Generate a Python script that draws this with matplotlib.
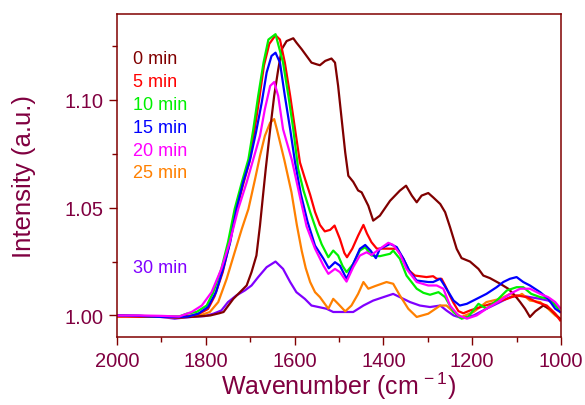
import matplotlib
matplotlib.use("Agg")
import matplotlib.pyplot as plt
from matplotlib.ticker import MultipleLocator

plt.rcParams['font.family'] = ['Liberation Sans', 'DejaVu Sans']
plt.rcParams['mathtext.fontset'] = 'custom'
plt.rcParams['mathtext.rm'] = 'Liberation Sans'
plt.rcParams['mathtext.it'] = 'Liberation Sans'

labels = ["0 min", "5 min", "10 min", "15 min", "20 min", "25 min", "30 min"]
colors = ["#800000", "#FF0000", "#00F000", "#0000FF", "#FF00FF", "#FF8000", "#8000FF"]

wn_0 = [2000, 1950, 1900, 1860, 1820, 1790, 1770, 1760, 1738, 1723, 1708, 1697, 1686, 1678, 1671,
        1665, 1655, 1646, 1637, 1629, 1618, 1603, 1596, 1584, 1573, 1562, 1550, 1543, 1531, 1517,
        1509, 1502, 1494, 1486, 1479, 1468, 1457, 1449, 1434, 1423, 1408, 1385, 1363, 1349, 1336,
        1325, 1314, 1299, 1288, 1272, 1261, 1250, 1235, 1224, 1205, 1186, 1175, 1160, 1137, 1119,
        1104, 1092, 1081, 1070, 1058, 1040, 1025, 1010, 1000]
int_0 = [1.000, 0.9995, 0.9995, 0.999, 0.9995, 1.000, 1.001, 1.0016, 1.0077, 1.0108, 1.0139, 1.0201, 1.0278, 1.0417, 1.056,
         1.068, 1.0864, 1.1019, 1.114, 1.1235, 1.1273, 1.1286, 1.1266, 1.1235, 1.1204, 1.1173, 1.1165, 1.1161, 1.1181, 1.1192,
         1.1173, 1.1065, 1.091, 1.0756, 1.0648, 1.062, 1.058, 1.0571, 1.0509, 1.044, 1.0463, 1.0532, 1.0579, 1.0602, 1.0556,
         1.0525, 1.0556, 1.0568, 1.0548, 1.0517, 1.0479, 1.041, 1.0309, 1.0266, 1.025, 1.0216, 1.0185, 1.0173, 1.0147, 1.0124,
         1.0093, 1.0062, 1.0031, 0.9993, 1.0019, 1.0046, 1.003, 1.000, 0.998]

wn_5 = [2000, 1950, 1900, 1860, 1830, 1815, 1795, 1780, 1762, 1747, 1732, 1717, 1702, 1691, 1680,
        1669, 1657, 1643, 1633, 1622, 1610, 1599, 1588, 1576, 1565, 1554, 1543, 1532, 1520, 1510,
        1498, 1488, 1482, 1470, 1457, 1445, 1437, 1427, 1415, 1393, 1370, 1355, 1343, 1329, 1303,
        1288, 1280, 1269, 1261, 1250, 1242, 1231, 1220, 1205, 1175, 1145, 1122, 1100, 1077, 1055,
        1032, 1013, 1002]
int_5 = [0.9995, 0.9995, 0.9995, 0.9993, 1.000, 1.0008, 1.003, 1.009, 1.020, 1.033, 1.048, 1.060, 1.071, 1.085, 1.100,
         1.116, 1.126, 1.130, 1.128, 1.1173, 1.1019, 1.0864, 1.071, 1.063, 1.056, 1.048, 1.042, 1.039, 1.0397, 1.0417,
         1.0355, 1.029, 1.027, 1.031, 1.037, 1.042, 1.038, 1.034, 1.031, 1.031, 1.0309, 1.0263, 1.021, 1.0185, 1.0178,
         1.0182, 1.017, 1.017, 1.0139, 1.009, 1.0058, 1.002, 1.001, 1.0023, 1.0043, 1.0062, 1.0077, 1.0093, 1.0085, 1.0062,
         1.0046, 1.0008, 0.9977]

wn_10 = [2000, 1950, 1900, 1860, 1843, 1821, 1798, 1783, 1765, 1750, 1735, 1719, 1704, 1693, 1682,
         1670, 1659, 1643, 1626, 1614, 1603, 1592, 1580, 1565, 1550, 1539, 1524, 1513, 1502, 1492,
         1483, 1468, 1453, 1441, 1427, 1408, 1385, 1378, 1363, 1348, 1325, 1310, 1295, 1276, 1261,
         1242, 1224, 1209, 1186, 1168, 1145, 1122, 1100, 1085, 1067, 1047, 1025, 1010, 1002]
int_10 = [1.000, 0.9998, 0.9995, 0.9995, 1.0008, 1.0016, 1.0046, 1.0108, 1.0216, 1.034, 1.0494, 1.0617, 1.0725, 1.0864, 1.1019,
          1.1173, 1.128, 1.1305, 1.1173, 1.1019, 1.0864, 1.068, 1.058, 1.048, 1.039, 1.033, 1.027, 1.0301, 1.0278, 1.023,
          1.0201, 1.0239, 1.0301, 1.0317, 1.0278, 1.0275, 1.0286, 1.0301, 1.0263, 1.0185, 1.0124, 1.0105, 1.0096, 1.0108, 1.0085,
          1.0016, 0.9985, 0.9993, 1.0054, 1.0031, 1.0069, 1.0116, 1.0131, 1.0131, 1.010, 1.0085, 1.0077, 1.0039, 1.0016]

wn_15 = [2000, 1950, 1900, 1860, 1840, 1817, 1795, 1777, 1761, 1745, 1731, 1716, 1700, 1687, 1674,
         1663, 1652, 1643, 1633, 1622, 1610, 1599, 1586, 1571, 1554, 1535, 1523, 1509, 1498, 1483,
         1468, 1453, 1441, 1429, 1417, 1408, 1385, 1370, 1355, 1340, 1325, 1299, 1288, 1272, 1258,
         1242, 1228, 1212, 1190, 1168, 1145, 1130, 1115, 1100, 1085, 1070, 1047, 1029, 1013, 1002]
int_15 = [1.000, 0.9998, 0.9993, 0.9993, 0.9995, 1.0008, 1.0039, 1.0108, 1.0216, 1.034, 1.0494, 1.0617, 1.0725, 1.0849, 1.0988,
          1.1127, 1.1204, 1.1219, 1.1173, 1.1019, 1.0864, 1.071, 1.0563, 1.0436, 1.0324, 1.0263, 1.0219, 1.0247, 1.0231, 1.017,
          1.0239, 1.0309, 1.0327, 1.0301, 1.0266, 1.0309, 1.0332, 1.0317, 1.0263, 1.0201, 1.0162, 1.0155, 1.0155, 1.017, 1.0124,
          1.0069, 1.0046, 1.0054, 1.0077, 1.010, 1.0131, 1.0155, 1.017, 1.0178, 1.0155, 1.0139, 1.0108, 1.0077, 1.0031, 1.0016]

wn_20 = [2000, 1950, 1900, 1860, 1832, 1809, 1787, 1765, 1746, 1727, 1708, 1693, 1678, 1667, 1655,
         1646, 1637, 1626, 1606, 1588, 1573, 1554, 1535, 1524, 1509, 1498, 1483, 1468, 1453, 1438,
         1427, 1408, 1389, 1378, 1363, 1348, 1325, 1299, 1280, 1265, 1250, 1231, 1212, 1190, 1168,
         1137, 1115, 1092, 1070, 1047, 1029, 1013, 1002]
int_20 = [1.000, 1.000, 0.9998, 0.9995, 1.0016, 1.0046, 1.0108, 1.0216, 1.034, 1.0494, 1.0617, 1.0725, 1.0833, 1.0957, 1.1065,
          1.1083, 1.1019, 1.0864, 1.072, 1.055, 1.0413, 1.031, 1.0231, 1.0193, 1.0216, 1.0201, 1.0157, 1.0224, 1.0278, 1.0293,
          1.0281, 1.0309, 1.0337, 1.0327, 1.0286, 1.0216, 1.0155, 1.0139, 1.0139, 1.0124, 1.0046, 1.000, 0.9985, 1.000, 1.0031,
          1.0069, 1.010, 1.0124, 1.0124, 1.010, 1.0085, 1.0062, 1.0034]

wn_25 = [2000, 1950, 1900, 1860, 1835, 1813, 1791, 1772, 1753, 1735, 1719, 1704, 1689, 1678, 1667,
         1655, 1646, 1640, 1623, 1607, 1595, 1584, 1575, 1565, 1554, 1543, 1524, 1513, 1502, 1486,
         1472, 1457, 1445, 1434, 1419, 1393, 1378, 1363, 1344, 1325, 1299, 1272, 1258, 1242, 1224,
         1197, 1168, 1137, 1115, 1100, 1088, 1070, 1047, 1029, 1013, 1002]
int_25 = [0.9995, 0.9995, 0.9993, 0.999, 0.9995, 1.000, 1.0016, 1.0062, 1.017, 1.0293, 1.0401, 1.0494, 1.0633, 1.074, 1.0833,
          1.0895, 1.0911, 1.0864, 1.072, 1.0571, 1.042, 1.030, 1.022, 1.0155, 1.0108, 1.0085, 1.0031, 1.0077, 1.0054, 1.0019,
          1.0046, 1.010, 1.0155, 1.0124, 1.0136, 1.0155, 1.0147, 1.0093, 1.0031, 0.9993, 1.0008, 1.0046, 1.0046, 1.0016, 0.9993,
          1.0016, 1.0062, 1.0077, 1.010, 1.0085, 1.010, 1.0069, 1.0062, 1.0031, 1.000, 0.9985]

wn_30 = [2000, 1950, 1900, 1870, 1850, 1820, 1802, 1783, 1765, 1750, 1731, 1712, 1697, 1682, 1663,
         1643, 1626, 1610, 1596, 1577, 1562, 1546, 1528, 1513, 1498, 1483, 1468, 1445, 1423, 1400,
         1378, 1363, 1340, 1318, 1295, 1272, 1258, 1242, 1224, 1197, 1168, 1137, 1115, 1092, 1070,
         1047, 1029, 1013, 1002]
int_30 = [1.000, 0.9998, 0.9993, 0.9985, 0.999, 0.9995, 0.9997, 1.0008, 1.0023, 1.0062, 1.0093, 1.0116, 1.0139, 1.0178, 1.0224,
          1.025, 1.0216, 1.0155, 1.0108, 1.0077, 1.0046, 1.0039, 1.0031, 1.0016, 1.0016, 1.0016, 1.0016, 1.0046, 1.0069, 1.0085,
          1.010, 1.0085, 1.0062, 1.0046, 1.0039, 1.0046, 1.0023, 1.000, 0.9988, 1.000, 1.0031, 1.0062, 1.0085, 1.0093, 1.0085,
          1.0077, 1.0069, 1.0054, 1.0034]

label_y = [1.1193, 1.1087, 1.0980, 1.0874, 1.0763, 1.0661, 1.0224]
label_x = 1964

x_ticks = [2000, 1800, 1600, 1400, 1200, 1000]
y_ticks = [1.00, 1.05, 1.10]

wine = "#800040"
maroon = "#800000"

fig = plt.figure(figsize=(5.85, 4.06), dpi=100)
ax = fig.add_axes([0.2, 0.1675, 0.759, 0.7963])

series = [(wn_0, int_0), (wn_5, int_5), (wn_10, int_10), (wn_15, int_15),
          (wn_20, int_20), (wn_25, int_25), (wn_30, int_30)]
order = [6, 5, 0, 1, 2, 3, 4]
for i in order:
    w, v = series[i]
    ax.plot(w, v, color=colors[i], lw=1.6, solid_joinstyle='round')

for lab, c, yv in zip(labels, colors, label_y):
    ax.text(label_x, yv, lab, color=c, fontsize=13, ha='left', va='center')

ax.set_xlim(2000, 1000)
ax.set_ylim(0.99, 1.14)
ax.set_xticks(x_ticks)
ax.set_yticks(y_ticks)
ax.set_yticklabels([f"{t:.2f}" for t in y_ticks])
ax.xaxis.set_minor_locator(MultipleLocator(100))
ax.yaxis.set_minor_locator(MultipleLocator(0.025))

for s in ax.spines.values():
    s.set_color(maroon)
    s.set_linewidth(1.1)
ax.tick_params(which='both', direction='out', color=maroon, width=1.0, labelcolor=wine, labelsize=14.5)
ax.tick_params(which='major', length=6, pad=4)
ax.tick_params(which='minor', length=3.5)

ax.set_xlabel("Wavenumber (cm$^{\\,-1}$)", color=wine, fontsize=18, labelpad=0)
ax.set_ylabel("Intensity (a.u.)", color=wine, fontsize=18.5, labelpad=20)

fig.savefig("out.png", dpi=100)
